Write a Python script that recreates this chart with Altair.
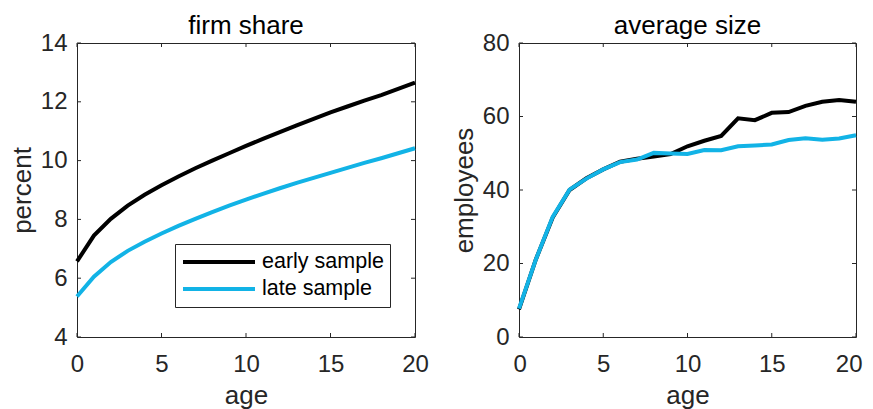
import altair as alt
import pandas as pd

# ---------------- data ----------------
age = list(range(21))
samples = ["early sample", "late sample"]

share_early = [6.57, 7.45, 8.02, 8.47, 8.84, 9.16, 9.46, 9.74, 10.0, 10.25, 10.5,
               10.74, 10.97, 11.2, 11.42, 11.64, 11.84, 12.04, 12.23, 12.44, 12.65]
share_late = [5.38, 6.05, 6.55, 6.93, 7.24, 7.52, 7.78, 8.02, 8.25, 8.47, 8.67,
              8.87, 9.06, 9.24, 9.41, 9.58, 9.75, 9.92, 10.08, 10.25, 10.42]
size_early = [7.5, 21.1, 32.5, 40.0, 43.2, 45.6, 47.7, 48.5, 49.1, 49.8, 51.9,
              53.4, 54.7, 59.5, 59.0, 61.0, 61.2, 62.9, 64.0, 64.5, 64.0]
size_late = [7.7, 21.1, 32.7, 40.1, 43.1, 45.6, 47.6, 48.3, 50.1, 49.9, 49.8,
             50.9, 50.8, 51.9, 52.1, 52.4, 53.6, 54.1, 53.7, 54.0, 54.9]

x_ticks = [0, 5, 10, 15, 20]
share_ticks = [4, 6, 8, 10, 12, 14]
size_ticks = [0, 20, 40, 60, 80]

# ---------------- style ----------------
H = 294
FONT = "Liberation Sans"
AX = "#262626"
COLORS = ["#000000", "#12B3E6"]
TL = 4  # inward tick length


def long_df(early, late):
    rows = []
    for s, vals in zip(samples, [early, late]):
        for a, v in zip(age, vals):
            rows.append({"age": a, "value": v, "sample": s})
    return pd.DataFrame(rows)


def panel(df, yticks, title, ytitle, legend, w, flush):
    xs = alt.Scale(domain=[x_ticks[0], x_ticks[-1]], nice=False, zero=False)
    ys = alt.Scale(domain=[yticks[0], yticks[-1]], nice=False, zero=False)
    if flush:
        xa = alt.Axis(values=x_ticks, title="age", labelFlush=True, labelFlushOffset=6)
    else:
        xa = alt.Axis(values=x_ticks, title="age", labelFlush=False)
    ya = alt.Axis(values=yticks, title=ytitle, labelFlush=False)
    lines = alt.Chart(df).mark_line(strokeWidth=4).encode(
        x=alt.X("age:Q", scale=xs, axis=xa),
        y=alt.Y("value:Q", scale=ys, axis=ya),
        color=alt.Color("sample:N", scale=alt.Scale(domain=samples, range=COLORS),
                        legend=legend),
    )
    xt = pd.DataFrame({"t": x_ticks})
    yt = pd.DataFrame({"t": yticks})
    tick = dict(color=AX, strokeWidth=1)
    t_left = alt.Chart(yt).mark_rule(**tick).encode(
        y=alt.Y("t:Q", scale=ys, axis=ya), x=alt.value(0), x2=alt.value(TL))
    t_right = alt.Chart(yt).mark_rule(**tick).encode(
        y=alt.Y("t:Q", scale=ys, axis=ya), x=alt.value(w - TL), x2=alt.value(w))
    t_bot = alt.Chart(xt).mark_rule(**tick).encode(
        x=alt.X("t:Q", scale=xs, axis=xa), y=alt.value(H - TL), y2=alt.value(H))
    t_top = alt.Chart(xt).mark_rule(**tick).encode(
        x=alt.X("t:Q", scale=xs, axis=xa), y=alt.value(0), y2=alt.value(TL))
    return alt.layer(lines, t_left, t_right, t_bot, t_top).properties(
        width=w, height=H, title=title)


legend = alt.Legend(
    orient="none", legendX=98, legendY=201, title=None,
    symbolType="stroke", symbolSize=5184, symbolStrokeWidth=4,
    clipHeight=24, rowPadding=3, padding=6,
    strokeColor=AX, fillColor="white",
    labelFontSize=21.5, labelColor="black", labelFont=FONT, labelOffset=5,
)

left = panel(long_df(share_early, share_late), share_ticks, "firm share", "percent",
             legend, 338, False)
right = panel(long_df(size_early, size_late), size_ticks, "average size", "employees",
              None, 337, True)

chart = (
    alt.hconcat(left, right, spacing=21)
    .resolve_scale(color="independent")
    .resolve_legend(color="independent")
    .configure(font=FONT, padding={"left": 0, "top": 4, "right": 0, "bottom": 0})
    .configure_view(stroke=AX, strokeWidth=1)
    .configure_axis(domain=False, ticks=False, tickSize=0, grid=False,
                    labelFont=FONT, labelFontSize=24, labelColor=AX,
                    titleFont=FONT, titleFontSize=26, titleFontWeight="normal",
                    titleColor=AX)
    .configure_axisX(labelPadding=15, titlePadding=6)
    .configure_axisY(labelPadding=10, titlePadding=5)
    .configure_title(font=FONT, fontSize=26, fontWeight="normal", color="black",
                     offset=-8, anchor="middle", frame="group")
)

chart.save("out.html", embed_options={"renderer": "svg", "actions": False})
